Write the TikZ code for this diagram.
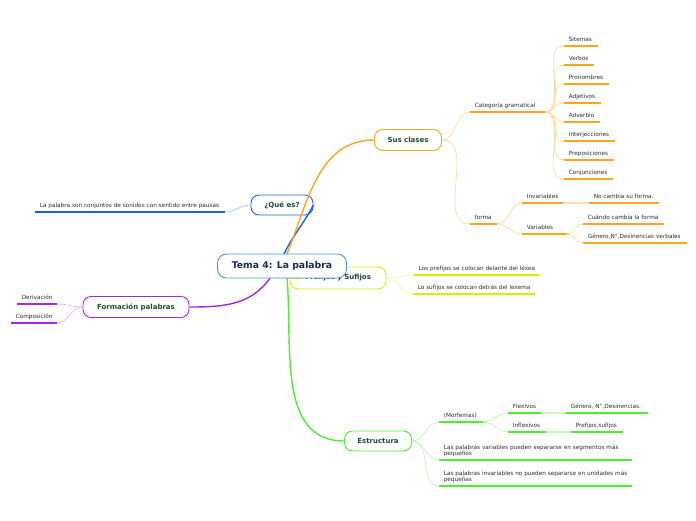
\documentclass[tikz,border=0pt]{standalone}
\usepackage{fontspec}
\setmainfont{DejaVu Sans}
\definecolor{cOr}{HTML}{FFA41C}
\definecolor{cOrL}{HTML}{FFD594}
\definecolor{cBl}{HTML}{1F5FE8}
\definecolor{cBlL}{HTML}{9DB6F5}
\definecolor{cYe}{HTML}{CCF500}
\definecolor{cYeL}{HTML}{E6FA99}
\definecolor{cPu}{HTML}{A524F0}
\definecolor{cPuL}{HTML}{D9A6F7}
\definecolor{cGr}{HTML}{4CF02A}
\definecolor{cGrL}{HTML}{B3F7A3}
\definecolor{cRoot}{HTML}{4A94D4}
\definecolor{nodetxt}{HTML}{1D4A3B}
\definecolor{roottxt}{HTML}{1B2B4E}
\definecolor{leaftxt}{HTML}{2B2B2B}
\newcommand\mmleaf[6]{%
  \coordinate (#1S) at (#2,#4);
  \coordinate (#1E) at (#3,#4);
  \node[leaf] (#1) at (#1S) {#6};
  \draw[ul,#5] (#1S) -- (#1E);
}
\begin{document}
\begin{tikzpicture}[x=1pt,y=-1pt,
  mainnode/.style={draw, rounded corners=8pt, line width=0.9pt, fill=white,
    inner sep=0pt, font=\fontsize{7}{8}\selectfont\bfseries, text=nodetxt},
  leaf/.style={anchor=south west, inner xsep=4.6pt, inner ysep=4.1pt, text depth=0pt,
    align=left, font=\fontsize{5.75}{6.7}\selectfont, text=leaftxt},
  ul/.style={line width=1.8pt},
  branch/.style={line width=1.4pt},
  thin/.style={line width=0.6pt},
  band/.style={line width=1.8pt}]
\useasboundingbox (0,0) rectangle (696,520);

% ---- main nodes (under root) ----
\node[mainnode, draw=cBl, minimum width=62pt, minimum height=20pt] (que) at (282,205) {¿Qué es?};
\node[mainnode, draw=cOr, minimum width=67pt, minimum height=21pt] (sus) at (408,140) {Sus clases};
\node[mainnode, draw=cYe, minimum width=96pt, minimum height=22pt] (pref) at (338,278) {Prefijos y Sufijos};
\node[mainnode, draw=cPu, minimum width=106pt, minimum height=21pt] (form) at (136,307) {Formación palabras};
\node[mainnode, draw=cGr, minimum width=67pt, minimum height=20pt] (est) at (378,441) {Estructura};

% root placeholder coordinates for branches
\coordinate (rN) at (282,254);
\coordinate (rS) at (282,278);

% ---- main branches ----
\draw[branch, cBl] ([xshift=2pt]rN) to[out=64,in=-118] (que.east);
\draw[branch, cOr] ([xshift=5pt]rN) to[out=68,in=180] (sus.west);
\draw[branch, cYe] ([xshift=20pt]rS) to[out=0,in=180] (pref.west);
\draw[branch, cPu] ([xshift=-12pt]rS) to[out=-125,in=0] (form.east);
\draw[branch, cGr] ([xshift=5pt]rS) to[out=-85,in=180] (est.west);

% ---- root ----
\node[draw=cRoot, line width=0.9pt, rounded corners=9pt, fill=white, inner sep=0pt,
  minimum width=129pt, minimum height=24pt, font=\fontsize{9.3}{10}\selectfont\bfseries,
  text=roottxt] (root) at (282,266) {Tema 4: La palabra};

% ---- ¿Qué es? ----
\mmleaf{qd}{35}{225}{212}{cBl}{La palabra son conjuntos de sonidos con sentido entre pausas}
\draw[thin, cBlL] (que.west) to[out=180,in=0] (qdE);

% ---- Sus clases ----
\mmleaf{cat}{470}{545}{112}{cOr}{Categoría gramatical}
\mmleaf{sit}{564}{598}{46}{cOr}{Sitemas}
\mmleaf{ver}{564}{594}{65}{cOr}{Verbos}
\mmleaf{pro}{564}{609}{84}{cOr}{Pronombres}
\mmleaf{adj}{564}{601}{103}{cOr}{Adjetivos}
\mmleaf{adv}{564}{600}{122}{cOr}{Adverbio}
\mmleaf{int}{564}{615}{141}{cOr}{Interjecciones}
\mmleaf{pre}{564}{614}{160}{cOr}{Preposiciones}
\mmleaf{con}{564}{613}{179}{cOr}{Conjunciones}
\mmleaf{forma}{470}{497}{224}{cOr}{forma}
\mmleaf{inv}{522}{563}{203}{cOr}{Invariables}
\mmleaf{noc}{589}{659}{203}{cOr}{No cambia su forma.}
\mmleaf{var}{522}{567}{234}{cOr}{Variables}
\mmleaf{cua}{583}{664}{224}{cOr}{Cuándo cambia la forma}
\mmleaf{gen}{583}{687}{243}{cOr}{Género,N°,Desinencias verbales}
\draw[thin, cOrL] (sus.east) to[out=0,in=180] (catS);
\draw[thin, cOrL] (sus.east) to[out=0,in=180] (formaS);
\foreach \n in {sit,ver,pro,adj,adv,int,pre,con}
  \draw[thin, cOrL] (catE) to[out=0,in=180] (\n S);
\draw[thin, cOrL] (formaE) to[out=0,in=180] (invS);
\draw[thin, cOrL] (formaE) to[out=0,in=180] (varS);
\draw[band, cOrL!70!white] (invE) -- (nocS);
\draw[thin, cOrL] (varE) to[out=0,in=180] (cuaS);
\draw[thin, cOrL] (varE) to[out=0,in=180] (genS);

% ---- Prefijos y Sufijos ----
\mmleaf{lp}{414}{540}{275}{cYe}{Los prefijos se colocan delante del lexea}
\mmleaf{ls}{413}{535}{294}{cYe}{Lo sufijos se colocan detrás del lexema}
\draw[thin, cYeL] (pref.east) to[out=0,in=180] (lpS);
\draw[thin, cYeL] (pref.east) to[out=0,in=180] (lsS);

% ---- Formación palabras ----
\mmleaf{der}{17}{57}{304}{cPu}{Derivación}
\mmleaf{com}{11}{57}{323}{cPu}{Composición}
\draw[thin, cPuL] (form.west) to[out=180,in=0] (derE);
\draw[thin, cPuL] (form.west) to[out=180,in=0] (comE);

% ---- Estructura ----
\mmleaf{mor}{439}{483}{422}{cGr}{(Morfemas)}
\mmleaf{flx}{508}{541}{413}{cGr}{Flexivos}
\mmleaf{gnd}{566}{648}{413}{cGr}{Género, N°,Desinencias.}
\mmleaf{inf}{508}{546}{432}{cGr}{Inflexivos}
\mmleaf{psf}{571}{623}{432}{cGr}{Prefijos,sufijos}
\mmleaf{lpv}{439}{632}{460}{cGr}{Las palabras variables pueden separarse en segmentos más\\pequeños}
\mmleaf{lpi}{439}{632}{486}{cGr}{Las palabras invariables no pueden separarse en unidades más\\pequeñas}
\draw[thin, cGrL] (est.east) to[out=0,in=180] (morS);
\draw[thin, cGrL] (est.east) to[out=0,in=180] (lpvS);
\draw[thin, cGrL] (est.east) to[out=0,in=180] (lpiS);
\draw[thin, cGrL] (morE) to[out=0,in=180] (flxS);
\draw[thin, cGrL] (morE) to[out=0,in=180] (infS);
\draw[band, cGrL!70!white] (flxE) -- (gndS);
\draw[band, cGrL!70!white] (infE) -- (psfS);
\end{tikzpicture}
\end{document}
